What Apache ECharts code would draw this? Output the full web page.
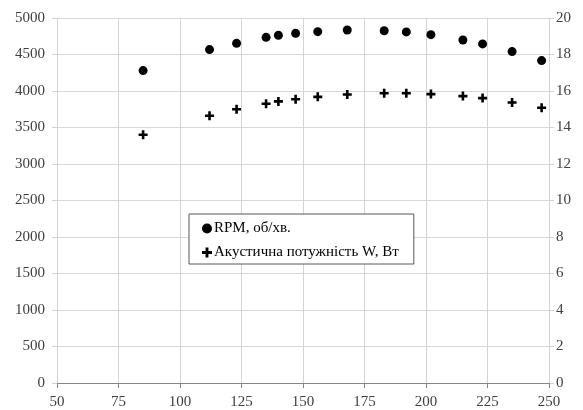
<!DOCTYPE html>
<html><head><meta charset="utf-8">
<script src="https://cdn.jsdelivr.net/npm/echarts@6/dist/echarts.min.js"></script>
<style>html,body{margin:0;padding:0;background:#fff}#c{width:583px;height:410px}</style>
</head><body><div id="c"></div>
<script>
const xValues = [85, 112, 123, 135, 140, 147, 156, 168, 183, 192, 202, 215, 223, 235, 247];
const rpmValues = [4280, 4567, 4653, 4735, 4762, 4790, 4813, 4836, 4826, 4809, 4772, 4699, 4645, 4540, 4417];
const powerValues = [13.6, 14.64, 15.0, 15.3, 15.43, 15.55, 15.68, 15.81, 15.88, 15.88, 15.83, 15.72, 15.61, 15.37, 15.08];
const seriesNames = ['RPM, об/хв.', 'Акустична потужність W, Вт'];

const plusPath = 'path://M3.2,0 H5.8 V3.2 H9 V5.8 H5.8 V9 H3.2 V5.8 H0 V3.2 H3.2 Z';
const font = 'Liberation Serif';
const txt = '#404040';
const plain = v => String(v);

const chart = echarts.init(document.getElementById('c'), null, {renderer: 'canvas'});
chart.setOption({
  animation: false,
  textStyle: {fontFamily: font},
  grid: {left: 57, right: 34, top: 18, bottom: 26, containLabel: false},
  legend: {
    orient: 'vertical', left: 189, top: 214,
    backgroundColor: '#fff', borderColor: '#595959', borderWidth: 1,
    padding: [7, 15, 4, 13], itemGap: 9, itemWidth: 10, itemHeight: 10,
    textStyle: {fontFamily: font, fontSize: 15, color: '#000', padding: [0, 0, 0, -3]},
    data: [
      {name: seriesNames[0], icon: 'circle'},
      {name: seriesNames[1], icon: plusPath}
    ]
  },
  xAxis: {
    type: 'value', min: 50, max: 250, interval: 25,
    axisLine: {onZero: false, lineStyle: {color: '#868686'}},
    axisTick: {show: true, length: 5, lineStyle: {color: '#868686'}},
    axisLabel: {color: txt, fontSize: 15, fontFamily: font, margin: 12, formatter: plain},
    splitLine: {show: true, lineStyle: {color: '#d4d4d4'}}
  },
  yAxis: [{
    type: 'value', min: 0, max: 5000, interval: 500, position: 'left',
    axisLine: {show: true, lineStyle: {color: '#d4d4d4'}},
    axisTick: {show: true, length: 5, lineStyle: {color: '#d4d4d4'}},
    axisLabel: {color: txt, fontSize: 15, fontFamily: font, margin: 12, formatter: plain},
    splitLine: {show: true, lineStyle: {color: '#d9d9d9'}}
  }, {
    type: 'value', min: 0, max: 20, interval: 2, position: 'right',
    axisLine: {show: true, lineStyle: {color: '#d4d4d4'}},
    axisTick: {show: true, length: 5, lineStyle: {color: '#d4d4d4'}},
    axisLabel: {color: txt, fontSize: 15, fontFamily: font, margin: 7, formatter: plain},
    splitLine: {show: false}
  }],
  series: [{
    name: seriesNames[0], type: 'scatter', yAxisIndex: 0,
    symbol: 'circle', symbolSize: 9,
    itemStyle: {color: '#000', opacity: 1},
    data: xValues.map((x, i) => [x, rpmValues[i]])
  }, {
    name: seriesNames[1], type: 'scatter', yAxisIndex: 1,
    symbol: plusPath, symbolSize: 9,
    itemStyle: {color: '#000', opacity: 1},
    data: xValues.map((x, i) => [x, powerValues[i]])
  }]
});
</script></body></html>
